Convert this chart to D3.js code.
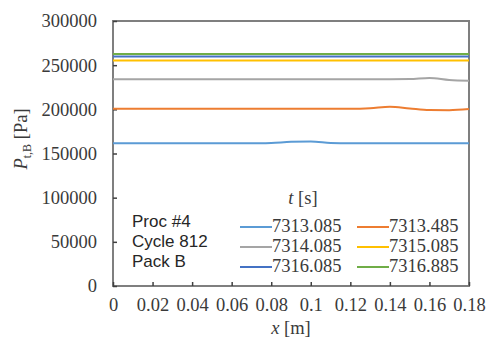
<!DOCTYPE html>
<html>
<head>
    <meta charset="utf-8">
    <title>Pressure along pack</title>
    <script src="https://d3js.org/d3.v7.min.js"></script>
    <style>
        body { margin: 0; background: #fff; }
    </style>
</head>
<body>
<div id="chart"></div>
<script>
    // x positions along the pack [m]
    var xs = [0, 0.01, 0.02, 0.03, 0.04, 0.05, 0.06, 0.07, 0.08, 0.09,
              0.10, 0.11, 0.12, 0.13, 0.14, 0.15, 0.16, 0.17, 0.18];

    // pressure [Pa] per time step
    var p7313085 = [161500, 161500, 161500, 161500, 161500, 161500, 161500, 161500, 162000, 163200,
                    163600, 162000, 161500, 161500, 161500, 161500, 161500, 161500, 161500];
    var p7313485 = [200700, 200700, 200700, 200700, 200700, 200700, 200700, 200700, 200700, 200700,
                    200700, 200700, 200700, 201300, 203000, 201000, 199200, 199100, 200400];
    var p7314085 = [234000, 234000, 234000, 234000, 234000, 234000, 234000, 234000, 234000, 234000,
                    234000, 234000, 234000, 234000, 234000, 234200, 235500, 233200, 232400];
    var p7315085 = [255300, 255300, 255300, 255300, 255300, 255300, 255300, 255300, 255300, 255300,
                    255300, 255300, 255300, 255300, 255300, 255300, 255300, 255300, 255300];
    var p7316085 = [259800, 259800, 259800, 259800, 259800, 259800, 259800, 259800, 259800, 259800,
                    259800, 259800, 259800, 259800, 259800, 259800, 259800, 259800, 259800];
    var p7316885 = [262600, 262600, 262600, 262600, 262600, 262600, 262600, 262600, 262600, 262600,
                    262600, 262600, 262600, 262600, 262600, 262600, 262600, 262600, 262600];

    var seriesNames = ["7313.085", "7313.485", "7314.085", "7315.085", "7316.085", "7316.885"];
    var seriesValues = [p7313085, p7313485, p7314085, p7315085, p7316085, p7316885];
    var seriesColors = ["#5b9bd5", "#ed7d31", "#a5a5a5", "#ffc000", "#4472c4", "#70ad47"];

    var xTicks = [0, 0.02, 0.04, 0.06, 0.08, 0.1, 0.12, 0.14, 0.16, 0.18];
    var yTicks = [0, 50000, 100000, 150000, 200000, 250000, 300000];
    var infoLines = ["Proc #4", "Cycle 812", "Pack B"];

    var W = 486, H = 342;
    var plot = {left: 113, right: 469, top: 21, bottom: 286};
    var serif = "'Liberation Serif', 'Times New Roman', Times, 'DejaVu Serif', serif";
    var textColor = "#3a3a3a";

    var svg = d3.select("#chart").append("svg")
        .attr("width", W)
        .attr("height", H);

    var x = d3.scaleLinear().domain([0, 0.18]).range([plot.left, plot.right]);
    var y = d3.scaleLinear().domain([0, 300000]).range([plot.bottom, plot.top]);

    // frame
    svg.append("rect")
        .attr("x", plot.left).attr("y", plot.top)
        .attr("width", plot.right - plot.left)
        .attr("height", plot.bottom - plot.top)
        .attr("fill", "none")
        .attr("stroke", "#7f7f7f")
        .attr("stroke-width", 2);

    // x axis, ticks pointing inward
    var gx = svg.append("g")
        .attr("transform", "translate(0," + plot.bottom + ")")
        .call(d3.axisBottom(x).tickValues(xTicks).tickSizeInner(-4).tickSizeOuter(0).tickPadding(12)
            .tickFormat(function(d) { return String(+d.toFixed(2)); }));

    // y axis
    var gy = svg.append("g")
        .attr("transform", "translate(" + plot.left + ",0)")
        .call(d3.axisLeft(y).tickValues(yTicks).tickSizeInner(-4).tickSizeOuter(0).tickPadding(16)
            .tickFormat(d3.format("d")));

    [gx, gy].forEach(function(g) {
        g.select(".domain").remove();
        g.attr("font-family", null).attr("font-size", null);
        g.selectAll(".tick line").attr("stroke", "#404040").attr("stroke-width", 1.5);
        g.selectAll(".tick text")
            .style("font-family", serif)
            .style("font-size", "18.5px")
            .attr("fill", textColor);
    });

    // lines
    var line = d3.line()
        .x(function(d, i) { return x(xs[i]); })
        .y(function(d) { return y(d); })
        .curve(d3.curveMonotoneX);

    seriesValues.forEach(function(vals, i) {
        svg.append("path")
            .attr("d", line(vals))
            .attr("fill", "none")
            .attr("stroke", seriesColors[i])
            .attr("stroke-width", 2);
    });

    // axis titles
    var xt = svg.append("text")
        .attr("x", (plot.left + plot.right) / 2)
        .attr("y", 334)
        .attr("text-anchor", "middle")
        .style("font-family", serif)
        .style("font-size", "18.5px")
        .style("fill", textColor);
    xt.append("tspan").style("font-style", "italic").text("x");
    xt.append("tspan").text(" [m]");

    var yt = svg.append("text")
        .attr("transform", "translate(27,139) rotate(-90)")
        .attr("text-anchor", "middle")
        .style("font-family", serif)
        .style("font-size", "18.5px")
        .style("fill", textColor);
    yt.append("tspan").style("font-style", "italic").text("P");
    yt.append("tspan").attr("dy", 4).style("font-size", "12px").text("t,B");
    yt.append("tspan").attr("dy", -4).text(" [Pa]");

    // legend
    var lt = svg.append("text")
        .attr("x", 303).attr("y", 204)
        .attr("text-anchor", "middle")
        .style("font-family", serif)
        .style("font-size", "18.5px")
        .style("fill", textColor);
    lt.append("tspan").style("font-style", "italic").text("t");
    lt.append("tspan").text(" [s]");

    var colX = [240, 357];
    var rowY = [227, 247, 267];
    seriesNames.forEach(function(name, i) {
        var cx = colX[i % 2], cy = rowY[Math.floor(i / 2)];
        svg.append("line")
            .attr("x1", cx).attr("x2", cx + 32)
            .attr("y1", cy).attr("y2", cy)
            .attr("stroke", seriesColors[i])
            .attr("stroke-width", 2);
        svg.append("text")
            .attr("x", cx + 32).attr("y", cy + 5)
            .style("font-family", serif)
            .style("font-size", "18.5px")
            .style("fill", textColor)
            .text(name);
    });

    // run info
    infoLines.forEach(function(t, i) {
        svg.append("text")
            .attr("x", 132).attr("y", 227 + i * 20)
            .style("font-family", "'Liberation Sans', Arial, sans-serif")
            .style("font-size", "17px")
            .style("fill", "#262626")
            .text(t);
    });
</script>
</body>
</html>
